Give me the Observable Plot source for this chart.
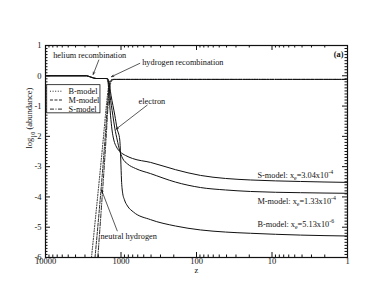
<!DOCTYPE html>
<html><head><meta charset="utf-8">
<script src="https://cdn.jsdelivr.net/npm/d3@7"></script>
<script src="https://cdn.jsdelivr.net/npm/@observablehq/plot@0.6"></script>
<style>body{margin:0;background:#fff}</style>
</head><body><div id="chart"></div>
<script>
// ---- data (z = redshift, v = log10 abundance) ----
const models = ["B-model", "M-model", "S-model"];

const electronZ_S = [10000, 2864, 2535, 2112, 1556, 1486, 1442, 1377, 1315, 1245, 1148, 1016, 872, 705, 406, 190, 88.5, 41.3, 19.3, 4.2, 1];
const electronV_S = [0, 0, -0.04, -0.09, -0.09, -0.21, -0.64, -1.30, -1.79, -2.12, -2.35, -2.52, -2.63, -2.73, -2.86, -3.10, -3.29, -3.39, -3.44, -3.49, -3.52];

const electronZ_M = [10000, 2864, 2535, 2112, 1531, 1465, 1400, 1284, 1208, 1122, 1047, 955, 820, 643, 406, 190, 88.5, 41.3, 19.3, 4.2, 1];
const electronV_M = [0, 0, -0.04, -0.09, -0.09, -0.21, -0.64, -1.30, -1.73, -2.12, -2.45, -2.72, -2.91, -3.06, -3.23, -3.51, -3.69, -3.77, -3.82, -3.86, -3.88];

const electronZ_B = [10000, 2864, 2535, 2112, 1510, 1442, 1356, 1208, 1130, 1038, 1007, 985, 955, 899, 820, 683, 406, 190, 88.5, 41.3, 19.3, 4.2, 1];
const electronV_B = [0, 0, -0.04, -0.09, -0.09, -0.21, -0.64, -1.30, -1.73, -2.12, -2.78, -3.44, -3.84, -4.10, -4.30, -4.50, -4.75, -4.96, -5.09, -5.16, -5.20, -5.26, -5.29];

const neutralZ_B = [2460, 1722, 1535, 1472, 1400, 1297, 1];
const neutralV_B = [-6, -2.12, -0.80, -0.41, -0.17, -0.12, -0.12];
const neutralZ_M = [2208, 1630, 1493, 1438, 1365, 1257, 1];
const neutralV_M = [-6, -2.12, -0.80, -0.41, -0.17, -0.12, -0.12];
const neutralZ_S = [2028, 1581, 1465, 1408, 1336, 1240, 1];
const neutralV_S = [-6, -2.12, -0.80, -0.41, -0.17, -0.12, -0.12];

const zTicks = [10000, 1000, 100, 10, 1];
const zTickLabels = ["10000", "1000", "100", "10", "1"];
const yTicks = [1, 0, -1, -2, -3, -4, -5, -6];
const yTickLabels = ["1", "0", "-1", "-2", "-3", "-4", "-5", "-6"];

const annotationTexts = ["helium recombination", "hydrogen recombination", "electron", "neutral hydrogen",
  "S-model: x_{e}=3.04x10^{-4}", "M-model: x_{e}=1.33x10^{-4}", "B-model: x_{e}=5.13x10^{-6}"];
const annotationZ = [7910, 524, 586, 1871, 15.6, 15.6, 15.6];
const annotationV = [0.67, 0.44, -0.83, -5.29, -3.28, -4.14, -4.89];

const arrowZ1 = [1968, 564, 450, 1122];
const arrowV1 = [0.52, 0.41, -0.97, -5.12];
const arrowZ2 = [2333, 1336, 1159, 1811];
const arrowV2 = [0.046, -0.03, -1.76, -3.77];

// ---- build tables ----
const pairs = (zs, vs, model) => zs.map((z, i) => ({model, z, v: vs[i]}));
const electron = [
  ...pairs(electronZ_B, electronV_B, "B-model"),
  ...pairs(electronZ_M, electronV_M, "M-model"),
  ...pairs(electronZ_S, electronV_S, "S-model")
];
const neutral = {
  "B-model": pairs(neutralZ_B, neutralV_B, "B-model"),
  "M-model": pairs(neutralZ_M, neutralV_M, "M-model"),
  "S-model": pairs(neutralZ_S, neutralV_S, "S-model")
};
const dash = {"B-model": "1,1.6", "M-model": "3,1.5", "S-model": "4,1.5,1,1.5"};

const zMinor = [];
for (const d of [1000, 100, 10, 1]) for (let k = 2; k <= 9; k++) zMinor.push(d * k);
const yMinor = d3.range(-60, 11).filter(k => k % 10 !== 0).map(k => k / 10);

const annotations = annotationTexts.map((t, i) => ({t, z: annotationZ[i], v: annotationV[i]}));
const arrows = arrowZ1.map((z, i) => ({z1: z, v1: arrowV1[i], z2: arrowZ2[i], v2: arrowV2[i]}));

// legend layout (in data units, inside the frame)
const legendRows = models.map((m, i) => ({m, v: [-0.51, -0.80, -1.10][i]}));

const FW = 302, FH = 212;
const ink = "#111";

const plot = Plot.plot({
  width: 391, height: 302,
  marginLeft: 45, marginRight: 44, marginTop: 45, marginBottom: 45,
  x: {type: "log", domain: [10000, 1], axis: null},
  y: {domain: [-6, 1], axis: null},
  style: {fontFamily: "'Liberation Serif', 'DejaVu Serif', serif", fontSize: "8.3px", background: "white", color: ink},
  marks: [
    // neutral hydrogen
    ...models.map(m => Plot.line(neutral[m], {x: "z", y: "v", stroke: ink, strokeWidth: 0.9, strokeDasharray: dash[m], curve: "monotone-x", clip: true})),
    // electrons
    Plot.line(electron, {x: "z", y: "v", z: "model", stroke: ink, strokeWidth: 1, curve: "monotone-x", clip: true}),
    // ticks
    Plot.ruleX(zTicks, {x: d => d, insetTop: FH - 5, stroke: ink}),
    Plot.ruleX(zTicks, {x: d => d, insetBottom: FH - 5, stroke: ink}),
    Plot.ruleX(zMinor, {x: d => d, insetTop: FH - 2.5, stroke: ink}),
    Plot.ruleX(zMinor, {x: d => d, insetBottom: FH - 2.5, stroke: ink}),
    Plot.ruleY(yTicks, {y: d => d, insetRight: FW - 5, stroke: ink}),
    Plot.ruleY(yTicks, {y: d => d, insetLeft: FW - 5, stroke: ink}),
    Plot.ruleY(yMinor, {y: d => d, insetRight: FW - 2.5, stroke: ink}),
    Plot.ruleY(yMinor, {y: d => d, insetLeft: FW - 2.5, stroke: ink}),
    Plot.frame({stroke: ink, strokeWidth: 1.2}),
    // tick labels
    Plot.text(zTicks, {x: d => d, text: (d, i) => zTickLabels[i], frameAnchor: "bottom", dy: 6, fontSize: 8.5}),
    Plot.text(yTicks, {y: d => d, text: (d, i) => yTickLabels[i], frameAnchor: "left", textAnchor: "end", dx: -4, fontSize: 8.5}),
    Plot.text(["z"], {frameAnchor: "bottom", dy: 15, fontSize: 8.5}),
    Plot.text(["log_{10} (abundance)"], {frameAnchor: "left", rotate: -90, dx: -16, dy: -3, fontSize: 8.5}),
    // legend
    Plot.rect([0], {x1: 9490, x2: 1871, y1: -0.31, y2: -1.24, fill: "white", stroke: ink, strokeWidth: 0.8}),
    ...legendRows.map(r => Plot.ruleY([r], {y: "v", x1: 8590, x2: 5780, stroke: ink, strokeWidth: 0.9, strokeDasharray: dash[r.m]})),
    Plot.text(legendRows, {x: 4955, y: "v", text: "m", textAnchor: "start"}),
    // annotations
    Plot.arrow(arrows, {x1: "z1", y1: "v1", x2: "z2", y2: "v2", stroke: ink, strokeWidth: 0.7, headLength: 5, headAngle: 40}),
    Plot.text(annotations, {x: "z", y: "v", text: "t", textAnchor: "start"}),
    Plot.text(["(a)"], {x: 1.13, y: 0.72, textAnchor: "end", fontWeight: "bold"})
  ]
});

document.getElementById("chart").appendChild(plot);

// rich text: _{sub} and ^{sup}
d3.select(plot).selectAll("text").each(function() {
  const s = this.textContent;
  if (!/[_^]\{/.test(s)) return;
  const el = d3.select(this);
  el.text(null);
  const parts = s.split(/(_\{[^}]*\}|\^\{[^}]*\})/).filter(p => p.length);
  let shift = 0;
  for (const p of parts) {
    if (p.startsWith("_{") || p.startsWith("^{")) {
      const sub = p[0] === "_";
      const target = sub ? 2.6 : -3.4;
      el.append("tspan").attr("dy", target - shift).attr("font-size", "70%").text(p.slice(2, -1));
      shift = target;
    } else {
      el.append("tspan").attr("dy", -shift).text(p);
      shift = 0;
    }
  }
});
</script>
</body></html>
